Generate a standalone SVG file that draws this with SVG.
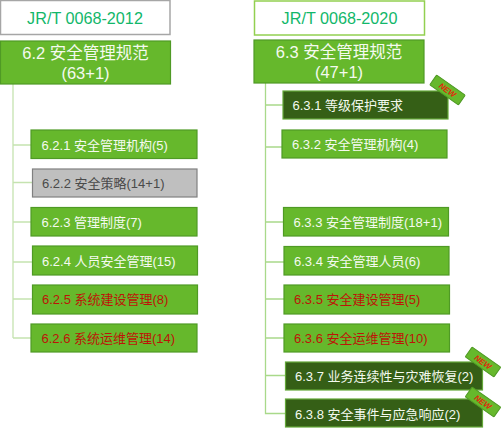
<svg xmlns="http://www.w3.org/2000/svg" width="501" height="429" viewBox="0 0 501 429">
<style>
text{font-family:"Liberation Sans","Noto Sans CJK SC",sans-serif}
.g{fill:#66b82c;stroke:#4f9a25;stroke-width:1.2}
.d{fill:#355f16;stroke:#64a83a;stroke-width:1.2}
.y{fill:#bfbfbf;stroke:#808080;stroke-width:1.2}
.c{font-size:13px;fill:#f4faef}
.r{fill:#bd1408}
.k{fill:#4a4a4a}
.p{font-size:16.5px;fill:#f4faef;text-anchor:middle}
.t{font-size:16.2px;fill:#12b76a;text-anchor:middle}
.b{fill:#66b82c;stroke:#4f9a25;stroke-width:1}
.n{font-size:8px;font-weight:bold;font-style:italic;fill:#e0290c;text-anchor:middle}
#connectors path{fill:none;stroke-width:1.3}
</style>
<g id="connectors">
<path stroke="#c5e3b0" d="M13 84V338M13 145H31M13 182.500H32M13 222H31M13 262H32M13 299H32M13 338H31"/>
<path stroke="#a9d98a" d="M265.500 83V413.500H285M265.500 105H283M265.500 147H282M265.500 222H283M265.500 262H284M265.500 299H284M265.500 338H284M265.500 375.500H285"/>
</g>
<g id="title-2012"><rect x="0.500" y="0.500" width="169.500" height="34" fill="#fff" stroke="#a6a6a6" stroke-width="1.500"/><text class="t" x="85" y="23.500">JR/T 0068-2012</text></g>
<g id="n62"><rect class="g" x="0.500" y="41" width="170" height="43"/><text class="p" x="85.500" y="59">6.2 安全管理规范</text><text class="p" x="85.500" y="79">(63+1)</text></g>
<g id="n621"><rect class="g" x="31" y="130" width="166" height="28.500"/><text class="c" x="41.500" y="149.500">6.2.1 安全管理机构(5)</text></g>
<g id="n622"><rect class="y" x="32.500" y="169" width="164.500" height="28"/><text class="c k" x="42" y="187.500">6.2.2 安全策略(14+1)</text></g>
<g id="n623"><rect class="g" x="31" y="207.500" width="166" height="28.500"/><text class="c" x="41.500" y="226.500">6.2.3 管理制度(7)</text></g>
<g id="n624"><rect class="g" x="32.500" y="246" width="165" height="29"/><text class="c" x="42" y="265.500">6.2.4 人员安全管理(15)</text></g>
<g id="n625"><rect class="g" x="32.500" y="285" width="165" height="29"/><text class="c r" x="42" y="304">6.2.5 系统建设管理(8)</text></g>
<g id="n626"><rect class="g" x="31" y="324" width="166" height="28"/><text class="c r" x="41.500" y="343">6.2.6 系统运维管理(14)</text></g>
<g id="title-2020"><rect x="254.500" y="1" width="170" height="34" fill="#fff" stroke="#92d050" stroke-width="1.500"/><text class="t" x="339.500" y="24">JR/T 0068-2020</text></g>
<g id="n63"><rect class="g" x="254" y="40" width="170" height="43"/><text class="p" x="339" y="58">6.3 安全管理规范</text><text class="p" x="339" y="78">(47+1)</text></g>
<g id="n631"><rect class="d" x="283" y="91" width="165" height="28"/><text class="c" x="292.500" y="110">6.3.1 等级保护要求</text></g>
<g id="n632"><rect class="g" x="282" y="130" width="165" height="28"/><text class="c" x="292" y="149">6.3.2 安全管理机构(4)</text></g>
<g id="n633"><rect class="g" x="283.500" y="207.500" width="165" height="28.500"/><text class="c" x="293.500" y="226.500">6.3.3 安全管理制度(18+1)</text></g>
<g id="n634"><rect class="g" x="284" y="246.500" width="165" height="28.500"/><text class="c" x="294" y="265.500">6.3.4 安全管理人员(6)</text></g>
<g id="n635"><rect class="g" x="284" y="285" width="165.500" height="29"/><text class="c r" x="294" y="304">6.3.5 安全建设管理(5)</text></g>
<g id="n636"><rect class="g" x="284" y="324" width="165.500" height="28"/><text class="c r" x="294" y="343">6.3.6 安全运维管理(10)</text></g>
<g id="n637"><rect class="d" x="285.500" y="362" width="197" height="28"/><text class="c" x="295" y="381">6.3.7 业务连续性与灾难恢复(2)</text></g>
<g id="n638"><rect class="d" x="285.500" y="399" width="197" height="28"/><text class="c" x="295" y="418.500">6.3.8 安全事件与应急响应(2)</text></g>
<g id="new1" transform="translate(447.500 90) rotate(35)"><rect class="b" x="-17.500" y="-6" width="35" height="12" rx="1"/><text class="n" y="3">NEW</text></g>
<g id="new2" transform="translate(483 362) rotate(35)"><rect class="b" x="-17.500" y="-6" width="35" height="12" rx="1"/><text class="n" y="3">NEW</text></g>
<g id="new3" transform="translate(483 402) rotate(35)"><rect class="b" x="-17.500" y="-6" width="35" height="12" rx="1"/><text class="n" y="3">NEW</text></g>
</svg>
